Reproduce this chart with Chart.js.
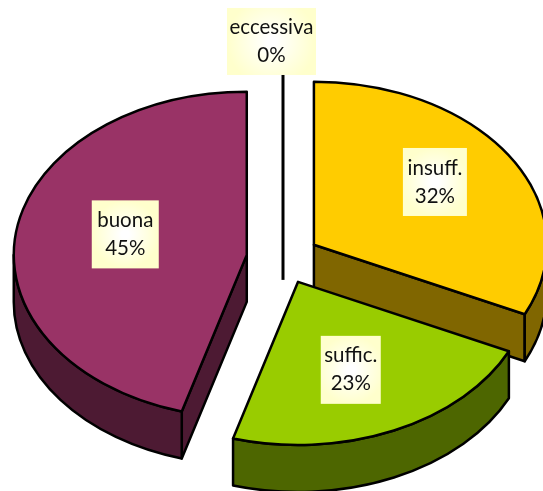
<!DOCTYPE html>
<html>
<head>
<meta charset="utf-8">
<style>
  html, body { margin: 0; padding: 0; background: #fff; }
  canvas { display: block; }
</style>
<script src="https://cdn.jsdelivr.net/npm/chart.js@4"></script>
</head>
<body>
<canvas id="pie" width="543" height="491"></canvas>
<script>
const categories = ['insuff.', 'suffic.', 'buona', 'eccessiva'];
const percentLabels = ['32%', '23%', '45%', '0%'];
const values = [32, 22.5, 45.5, 0];
const topColors = ['#FFCC00', '#99CC00', '#993366', '#000000'];
const wallColors = ['#806600', '#4D6600', '#4D1A33', '#000000'];

const tilt = 0.70;    // pie seen from above: vertical squash
const depth = 47;     // thickness of the pie in pixels
const explode = 36.6;
const radius = 233;
// label box centres, relative to the slice's apex
const labelShift = [[121, -62.8], [52.7, 88], [-121.5, -20.5], [-11.5, -191.4]];
const boxSizes = [[64, 68], [60, 68], [67, 68], [89, 67]];

let pieCentreY = 0;

function sliceGeometry(el) {
  return {
    cx: el.x,
    cy: pieCentreY + (el.y - pieCentreY) * tilt,
    rx: el.outerRadius,
    ry: el.outerRadius * tilt,
    s: el.startAngle,
    e: el.endAngle
  };
}

function radialWall(ctx, g, angle, fill) {
  const px = g.cx + Math.cos(angle) * g.rx;
  const py = g.cy + Math.sin(angle) * g.ry;
  ctx.beginPath();
  ctx.moveTo(g.cx, g.cy);
  ctx.lineTo(px, py);
  ctx.lineTo(px, py + depth);
  ctx.lineTo(g.cx, g.cy + depth);
  ctx.closePath();
  ctx.fillStyle = fill;
  ctx.fill();
  ctx.stroke();
}

function drawWalls(ctx, el, i) {
  const g = sliceGeometry(el);
  ctx.strokeStyle = '#000';
  ctx.lineWidth = 2.5;
  ctx.lineJoin = 'round';

  // slice with no size: only a black line is left
  if (values[i] === 0) {
    ctx.lineWidth = 3;
    ctx.beginPath();
    ctx.moveTo(g.cx + Math.cos(g.s) * g.rx, g.cy + Math.sin(g.s) * g.ry);
    ctx.lineTo(g.cx, g.cy + depth);
    ctx.stroke();
    return;
  }

  if (Math.cos(g.s) < -0.001) radialWall(ctx, g, g.s, wallColors[i]);
  if (Math.cos(g.e) > 0.001) radialWall(ctx, g, g.e, wallColors[i]);

  const a = Math.max(g.s, 0);
  const b = Math.min(g.e, Math.PI);
  if (b > a) {
    ctx.beginPath();
    ctx.ellipse(g.cx, g.cy, g.rx, g.ry, 0, a, b);
    ctx.ellipse(g.cx, g.cy + depth, g.rx, g.ry, 0, b, a, true);
    ctx.closePath();
    ctx.fillStyle = wallColors[i];
    ctx.fill();
    ctx.stroke();
  }
}

function drawOutline(ctx, el) {
  const g = sliceGeometry(el);
  ctx.strokeStyle = '#000';
  ctx.lineWidth = 2.5;
  ctx.lineJoin = 'round';
  ctx.beginPath();
  ctx.moveTo(g.cx, g.cy);
  ctx.ellipse(g.cx, g.cy, g.rx, g.ry, 0, g.s, g.e);
  ctx.closePath();
  ctx.stroke();
}

function drawLabel(ctx, el, i) {
  const g = sliceGeometry(el);
  const x = g.cx + labelShift[i][0];
  const y = g.cy + labelShift[i][1];
  const w = boxSizes[i][0];
  const h = boxSizes[i][1];

  const grad = ctx.createRadialGradient(x, y, 4, x, y, Math.max(w, h) / 2);
  grad.addColorStop(0, '#FFFFFF');
  grad.addColorStop(1, '#FFFFCC');
  ctx.fillStyle = grad;
  ctx.fillRect(x - w / 2, y - h / 2, w, h);

  ctx.fillStyle = '#111';
  ctx.font = '20.5px Lato';
  ctx.textAlign = 'center';
  ctx.textBaseline = 'middle';
  ctx.fillText(categories[i], x, y - 14);
  ctx.fillText(percentLabels[i], x, y + 14);
}

const pie3d = {
  id: 'pie3d',
  // the offset option also grows wide slices, so the slices are moved out here
  afterDatasetUpdate(chart, args) {
    const area = chart.chartArea;
    pieCentreY = (area.top + area.bottom) / 2;
    args.meta.data.forEach(el => {
      const mid = (el.startAngle + el.endAngle) / 2;
      el.x += Math.cos(mid) * explode;
      el.y += Math.sin(mid) * explode;
    });
  },
  beforeDatasetDraw(chart, args) {
    const ctx = chart.ctx;
    const arcs = args.meta.data;
    [0, 2, 3, 1].forEach(i => drawWalls(ctx, arcs[i], i));

    // the library draws the slice tops in a squashed context
    ctx.save();
    ctx.translate(0, pieCentreY);
    ctx.scale(1, tilt);
    ctx.translate(0, -pieCentreY);
  },
  afterDatasetDraw(chart, args) {
    const ctx = chart.ctx;
    ctx.restore();
    const arcs = args.meta.data;
    arcs.forEach((el, i) => {
      if (values[i] > 0) drawOutline(ctx, el);
    });
    arcs.forEach((el, i) => drawLabel(ctx, el, i));
  }
};

new Chart(document.getElementById('pie').getContext('2d'), {
  type: 'pie',
  data: {
    labels: categories,
    datasets: [{
      data: values,
      backgroundColor: topColors,
      borderWidth: 0,
      clip: false
    }]
  },
  options: {
    responsive: false,
    animation: false,
    radius: radius,
    layout: { padding: { left: 23, top: 26, right: 0, bottom: 0 } },
    plugins: {
      legend: { display: false },
      tooltip: { enabled: false }
    }
  },
  plugins: [pie3d]
});
</script>
</body>
</html>
